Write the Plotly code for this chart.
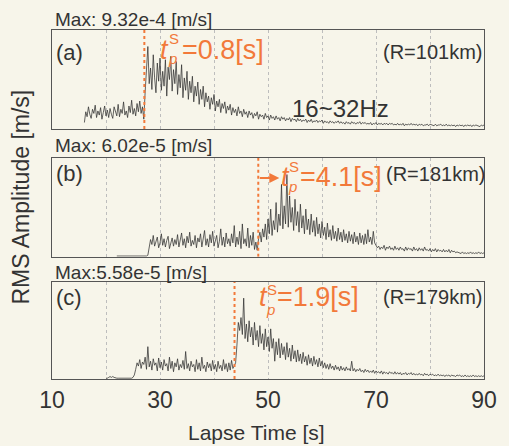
import plotly.graph_objects as go

# ---------------- data (relative RMS amplitude, fraction of each panel's max) ----------------
dt = 0.25
t0_a = 16.0
amp_a = [
    0.08, 0.21, 0.15, 0.27, 0.18, 0.13, 0.24, 0.19, 0.29, 0.14, 0.22, 0.17, 0.26, 0.12, 0.20, 0.28, 0.16, 0.23, 0.14, 0.25,
    0.18, 0.13, 0.27, 0.21, 0.16, 0.30, 0.15, 0.24, 0.19, 0.33, 0.17, 0.22, 0.14, 0.28, 0.20, 0.35, 0.18, 0.25, 0.16, 0.31,
    0.21, 0.34, 0.19, 0.27, 0.12,
    0.45, 0.82, 1.00, 0.55, 0.74, 0.48, 0.90, 0.62, 0.44, 0.80, 0.58, 0.86, 0.47, 0.70, 0.52, 0.84, 0.40, 0.75, 0.60, 0.88,
    0.46, 0.72, 0.55, 0.82, 0.42, 0.66, 0.50, 0.78, 0.38, 0.62, 0.47, 0.70, 0.36, 0.58, 0.44, 0.64, 0.33, 0.52, 0.40, 0.57,
    0.30, 0.48, 0.36, 0.52, 0.27, 0.44, 0.33, 0.40, 0.24, 0.38, 0.30, 0.42, 0.22, 0.34, 0.27, 0.36, 0.20, 0.31, 0.25, 0.33,
    0.19, 0.28, 0.23, 0.30, 0.17, 0.26, 0.20, 0.24, 0.16, 0.27, 0.19, 0.22, 0.15, 0.24, 0.18, 0.21, 0.14, 0.22, 0.17, 0.20,
    0.13, 0.19, 0.16, 0.21, 0.12, 0.18, 0.15, 0.17, 0.12, 0.19, 0.14, 0.16, 0.11, 0.17, 0.13, 0.15, 0.11, 0.16, 0.12, 0.14,
    0.10, 0.15, 0.12, 0.14, 0.10, 0.13, 0.11, 0.14, 0.09, 0.13, 0.11, 0.12, 0.09, 0.13, 0.10, 0.12, 0.09, 0.11, 0.10, 0.12,
    0.08, 0.11, 0.09, 0.12, 0.08, 0.10, 0.09, 0.11, 0.08, 0.10, 0.09, 0.11, 0.07, 0.10, 0.08, 0.09, 0.07, 0.10, 0.08, 0.09,
    0.07, 0.09, 0.08, 0.10, 0.07, 0.09, 0.07, 0.08, 0.06, 0.09, 0.07, 0.08, 0.06, 0.09, 0.07, 0.08, 0.06, 0.08, 0.07, 0.09,
    0.06, 0.08, 0.07, 0.08, 0.06, 0.07, 0.06, 0.08, 0.05, 0.07, 0.06, 0.08, 0.05, 0.07, 0.06, 0.07, 0.05, 0.07, 0.06, 0.07,
    0.05, 0.07, 0.06, 0.07, 0.05, 0.06, 0.05, 0.07, 0.05, 0.06, 0.05, 0.07, 0.04, 0.06, 0.05, 0.06, 0.05, 0.07, 0.05, 0.06,
    0.05, 0.06, 0.04, 0.06, 0.05, 0.06, 0.04, 0.05, 0.05, 0.06, 0.04, 0.06, 0.05, 0.05, 0.04, 0.06, 0.04, 0.05, 0.05, 0.06,
    0.04, 0.05, 0.04, 0.06, 0.04, 0.05, 0.04, 0.05, 0.04, 0.05, 0.03, 0.05, 0.04, 0.05, 0.04, 0.05, 0.03, 0.05, 0.04, 0.05,
    0.04, 0.05, 0.03, 0.05, 0.04, 0.05, 0.04, 0.04, 0.03, 0.05, 0.04, 0.05]

t0_b = 22.0
amp_b = [
    0.01, 0.01, 0.01, 0.01, 0.01, 0.01, 0.01, 0.01, 0.01, 0.01, 0.01, 0.01,
    0.01, 0.01, 0.01, 0.01, 0.01, 0.01, 0.01, 0.01, 0.01, 0.01, 0.01, 0.02,
    0.12, 0.21, 0.15, 0.26, 0.13, 0.19, 0.24, 0.11, 0.17, 0.28, 0.14, 0.22, 0.12, 0.20, 0.25, 0.10, 0.18, 0.23, 0.13, 0.21,
    0.15, 0.27, 0.12, 0.19, 0.29, 0.14, 0.22, 0.11, 0.25, 0.17, 0.30, 0.13, 0.20, 0.15, 0.26, 0.11, 0.23, 0.18, 0.28, 0.12,
    0.20, 0.32, 0.14, 0.22, 0.12, 0.27, 0.17, 0.31, 0.13, 0.21, 0.26, 0.11, 0.19, 0.34, 0.14, 0.24, 0.12, 0.29, 0.16, 0.22,
    0.13, 0.28, 0.17, 0.38, 0.12, 0.24, 0.15, 0.31, 0.10, 0.40, 0.16, 0.22, 0.13, 0.35, 0.11, 0.26, 0.14, 0.30, 0.09, 0.18,
    0.08, 0.22, 0.30, 0.18, 0.34, 0.24, 0.40, 0.21, 0.46, 0.28, 0.58, 0.26, 0.44, 0.33, 0.66, 0.30, 0.52, 0.38, 0.88, 0.34,
    0.62, 0.40, 1.00, 0.36, 0.74, 0.42, 0.60, 0.32, 0.70, 0.38, 0.55, 0.30, 0.64, 0.35, 0.50, 0.28, 0.58, 0.33, 0.46, 0.27,
    0.52, 0.30, 0.44, 0.25, 0.48, 0.28, 0.40, 0.23, 0.43, 0.26, 0.36, 0.21, 0.41, 0.24, 0.33, 0.20, 0.38, 0.22, 0.31, 0.19,
    0.35, 0.21, 0.30, 0.18, 0.33, 0.20, 0.28, 0.17, 0.31, 0.19, 0.27, 0.16, 0.30, 0.18, 0.25, 0.15, 0.29, 0.17, 0.26, 0.15,
    0.28, 0.16, 0.33, 0.18, 0.24, 0.15, 0.31, 0.17, 0.14, 0.11, 0.13, 0.09, 0.12, 0.10, 0.14, 0.08, 0.12, 0.10, 0.13, 0.09,
    0.11, 0.08, 0.13, 0.09, 0.11, 0.08, 0.12, 0.09, 0.10, 0.07, 0.12, 0.08, 0.11, 0.09, 0.10, 0.07, 0.12, 0.08, 0.10, 0.07,
    0.11, 0.08, 0.10, 0.07, 0.12, 0.08, 0.09, 0.07, 0.10, 0.06, 0.09, 0.07, 0.10, 0.06, 0.09, 0.07, 0.08, 0.06, 0.09, 0.06,
    0.08, 0.06, 0.09, 0.05, 0.08, 0.06, 0.07, 0.05, 0.06, 0.05, 0.05, 0.04, 0.06, 0.04, 0.05, 0.04, 0.05, 0.04, 0.06, 0.04,
    0.05, 0.04, 0.05, 0.04, 0.06, 0.04, 0.05, 0.04, 0.05]

t0_c = 20.0
amp_c = [
    0.01, 0.01, 0.02, 0.03, 0.02, 0.03, 0.02, 0.01, 0.01, 0.01, 0.01, 0.01, 0.01, 0.01, 0.01, 0.01, 0.01, 0.01, 0.01, 0.01,
    0.02, 0.05,
    0.12, 0.20, 0.16, 0.24, 0.13, 0.21, 0.18, 0.27, 0.12, 0.40, 0.15, 0.22, 0.11, 0.25, 0.17, 0.20, 0.10, 0.26, 0.14, 0.21,
    0.11, 0.24, 0.16, 0.19, 0.10, 0.27, 0.13, 0.22, 0.09, 0.20, 0.15, 0.25, 0.11, 0.18, 0.14, 0.23, 0.12, 0.34, 0.13, 0.19,
    0.10, 0.22, 0.15, 0.18, 0.09, 0.24, 0.12, 0.20, 0.10, 0.27, 0.13, 0.17, 0.09, 0.21, 0.14, 0.19, 0.10, 0.23, 0.12, 0.18,
    0.09, 0.22, 0.13, 0.17, 0.10, 0.24, 0.12, 0.19, 0.09, 0.20, 0.11, 0.23, 0.13, 0.16, 0.20, 0.42, 0.70, 0.60, 0.76, 0.55,
    1.00, 0.50, 0.68, 0.46, 0.72, 0.52, 0.64, 0.42, 0.70, 0.48, 0.60, 0.40, 0.66, 0.44, 0.56, 0.36, 0.62, 0.40, 0.52, 0.34,
    0.62, 0.38, 0.50, 0.22, 0.46, 0.30, 0.50, 0.26, 0.44, 0.30, 0.40, 0.24, 0.45, 0.27, 0.38, 0.22, 0.42, 0.25, 0.35, 0.21,
    0.36, 0.22, 0.31, 0.19, 0.33, 0.21, 0.28, 0.17, 0.30, 0.19, 0.26, 0.16, 0.28, 0.18, 0.24, 0.15, 0.26, 0.16, 0.22, 0.14,
    0.20, 0.13, 0.18, 0.12, 0.19, 0.13, 0.16, 0.11, 0.17, 0.12, 0.15, 0.10, 0.16, 0.11, 0.14, 0.10, 0.15, 0.11, 0.13, 0.10,
    0.22, 0.10, 0.13, 0.09, 0.12, 0.10, 0.13, 0.09, 0.11, 0.08, 0.12, 0.09, 0.11, 0.08, 0.10, 0.08, 0.11, 0.07, 0.10, 0.08,
    0.09, 0.07, 0.10, 0.06, 0.09, 0.07, 0.08, 0.06, 0.09, 0.07, 0.08, 0.06, 0.09, 0.06, 0.08, 0.06, 0.08, 0.05, 0.07, 0.06,
    0.08, 0.05, 0.07, 0.06, 0.08, 0.05, 0.07, 0.05, 0.06, 0.05, 0.07, 0.05, 0.06, 0.04, 0.07, 0.05, 0.06, 0.04, 0.06, 0.05,
    0.06, 0.04, 0.05, 0.04, 0.06, 0.04, 0.05, 0.04, 0.05, 0.03, 0.05, 0.04, 0.05, 0.03, 0.05, 0.04, 0.04, 0.03, 0.05, 0.04,
    0.05, 0.03, 0.04, 0.03, 0.05, 0.03, 0.04, 0.03, 0.04, 0.03, 0.05, 0.03, 0.04, 0.03, 0.04, 0.03, 0.04, 0.03, 0.04]

panel_labels = ["(a)", "(b)", "(c)"]
distances = ["(R=101km)", "(R=181km)", "(R=179km)"]
max_labels = ["Max: 9.32e-4 [m/s]", "Max: 6.02e-5 [m/s]", "Max:5.58e-5 [m/s]"]
onset_times = [27.1, 48.2, 43.8]
tps_values = ["0.8", "4.1", "1.9"]
tick_vals = [10, 20, 30, 40, 50, 60, 70, 80, 90]
tick_text = ["10", "", "30", "", "50", "", "70", "", "90"]

# ---------------- figure ----------------
W, H = 509, 446
L, R, T, B = 52, 18, 30, 67
PW, PH = W - L - R, H - T - B
BG = "#f7f5ea"
ORANGE = "#f2793a"
DARK = "#333333"
FONT = "Liberation Sans, Arial, sans-serif"


def P(x, y):
    return dict(xref="paper", yref="paper", x=(x - L) / PW, y=(H - B - y) / PH)


fig = go.Figure()
series = [(t0_a, amp_a), (t0_b, amp_b), (t0_c, amp_c)]
domains = [[0.716, 1.0], [0.350, 0.633], [0.0, 0.278]]

for i, (t0, amp) in enumerate(series):
    times = [t0 + k * dt for k in range(len(amp))]
    n = "" if i == 0 else str(i + 1)
    fig.add_trace(go.Scatter(x=times, y=amp, mode="lines",
                             line=dict(color="#303030", width=0.75),
                             xaxis="x" + n, yaxis="y" + n, showlegend=False))
    fig.update_layout(**{
        "xaxis" + n: dict(domain=[0, 1], range=[10, 90], anchor="y" + n,
                          tickvals=tick_vals, ticktext=tick_text,
                          showticklabels=(i == 2), ticks="",
                          showgrid=True, gridcolor="#bdbdbd", griddash="dot", gridwidth=1,
                          showline=True, linecolor="#555555", linewidth=1, mirror=True,
                          zeroline=False,
                          tickfont=dict(family=FONT, size=23, color=DARK)),
        "yaxis" + n: dict(domain=domains[i], range=[0, 1.2], anchor="x" + n,
                          showticklabels=False, ticks="", showgrid=False, zeroline=False,
                          showline=True, linecolor="#555555", linewidth=1, mirror=True),
    })
    fig.add_shape(type="line", xref="x" + n, yref="y" + n,
                  x0=onset_times[i], x1=onset_times[i], y0=0, y1=1.2,
                  line=dict(color=ORANGE, width=2, dash="dot"))

anns = []
# Max labels
for lab, y in zip(max_labels, [19, 145, 272]):
    anns.append(dict(text=lab, xanchor="left", yanchor="middle", showarrow=False, borderpad=0,
                     font=dict(family=FONT, size=19, color=DARK), **P(54, y)))
# panel letters
for lab, y in zip(panel_labels, [52, 174, 297]):
    anns.append(dict(text=lab, xanchor="left", yanchor="middle", showarrow=False, borderpad=0,
                     font=dict(family=FONT, size=22, color=DARK), **P(55, y)))
# distances
for lab, (x, y) in zip(distances, [(490, 52), (493, 174), (490, 297)]):
    anns.append(dict(text=lab, xanchor="right", yanchor="middle", showarrow=False, borderpad=0,
                     font=dict(family=FONT, size=20, color=DARK), **P(x, y)))
# frequency band
anns.append(dict(text="16~32Hz", xanchor="left", yanchor="middle", showarrow=False, borderpad=0,
                 font=dict(family=FONT, size=24, color=DARK), **P(295, 108)))

# t_p^S labels: italic t, stacked S over p, then the value
tps_pos = [
    dict(t=(161, 50), sp=(169, 48), v=(183, 50)),
    dict(t=(284, 177), sp=(291, 176), v=(303, 177)),
    dict(t=(261, 297), sp=(268, 299), v=(280, 297)),
]
for val, pos in zip(tps_values, tps_pos):
    anns.append(dict(text="<i>t</i>", xanchor="left", yanchor="middle", showarrow=False, borderpad=0,
                     font=dict(family=FONT, size=27, color=ORANGE), **P(*pos["t"])))
    anns.append(dict(text="S<br><i>p</i>", xanchor="left", yanchor="middle", showarrow=False,
                     borderpad=0, align="left",
                     font=dict(family=FONT, size=15, color=ORANGE), **P(*pos["sp"])))
    anns.append(dict(text="=" + val + "[s]", xanchor="left", yanchor="middle", showarrow=False,
                     borderpad=0, font=dict(family=FONT, size=27, color=ORANGE), **P(*pos["v"])))

# arrow in panel (b)
anns.append(dict(text="", showarrow=True, arrowhead=2, arrowsize=1, arrowwidth=2,
                 arrowcolor=ORANGE, axref="pixel", ayref="pixel",
                 ax=-21, ay=0, **P(283, 178)))

# axis titles
anns.append(dict(text="RMS Amplitude [m/s]", textangle=-90, showarrow=False,
                 xanchor="center", yanchor="middle",
                 font=dict(family=FONT, size=23, color=DARK), **P(20, 197)))
anns.append(dict(text="Lapse Time [s]", showarrow=False, xanchor="center", yanchor="middle",
                 font=dict(family=FONT, size=21, color=DARK), **P(260, 432)))

fig.update_layout(width=W, height=H, margin=dict(l=L, r=R, t=T, b=B),
                  paper_bgcolor=BG, plot_bgcolor=BG, annotations=anns,
                  showlegend=False)

fig.write_html("out.html")
